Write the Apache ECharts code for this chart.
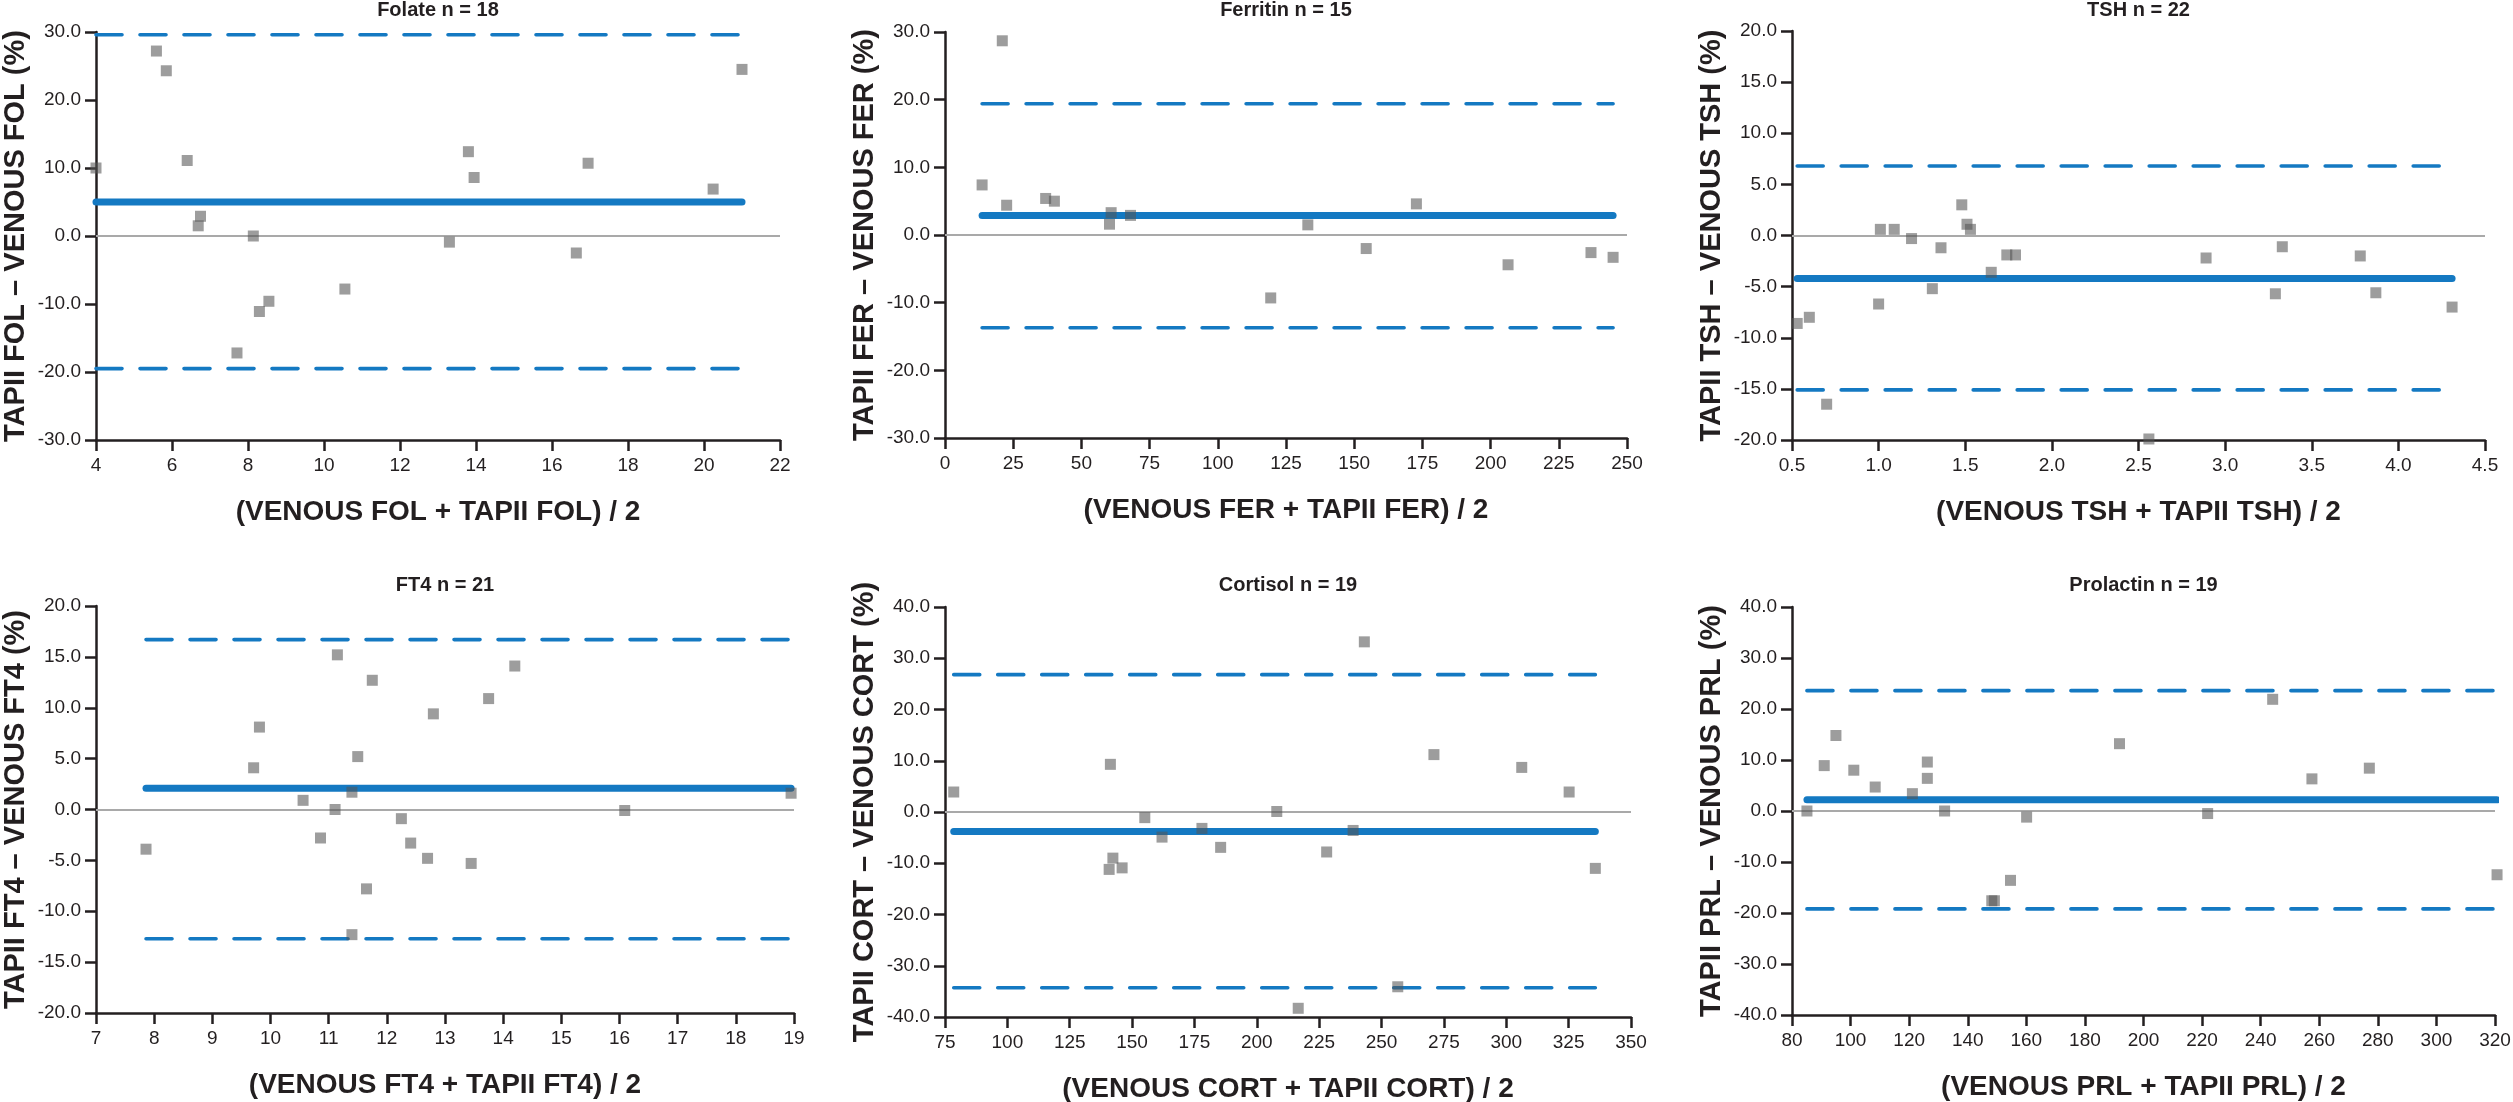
<!DOCTYPE html>
<html>
<head>
<meta charset="utf-8">
<title>TAPII vs venous - Bland-Altman</title>
<script src="https://cdn.jsdelivr.net/npm/echarts/dist/echarts.min.js"></script>
<style>
    html, body { margin: 0; padding: 0; background: #fff; }
    #chart { width: 2513px; height: 1102px; }
</style>
</head>
<body>
<div id="chart"></div>
<script>
'use strict';
// 各面板的数据
var panelTitles = ['Folate n = 18', 'Ferritin n = 15', 'TSH n = 22', 'FT4 n = 21', 'Cortisol n = 19', 'Prolactin n = 19'];
var analytes = ['FOL', 'FER', 'TSH', 'FT4', 'CORT', 'PRL'];

// 均值 (x) 和 差值% (y)
var folX = [4.0, 5.59, 5.85, 6.40, 6.75, 6.69, 8.14, 7.71, 8.30, 8.55, 10.55, 13.30, 13.80, 13.95, 16.64, 16.95, 20.24, 21.0];
var folY = [10.0, 27.2, 24.3, 11.1, 2.9, 1.5, 0.0, -17.2, -11.1, -9.6, -7.8, -0.9, 12.4, 8.6, -2.5, 10.7, 6.9, 24.5];
var ferX = [13.6, 21.0, 22.6, 36.9, 40.1, 60.9, 60.3, 68.0, 119.4, 133.0, 154.4, 172.8, 206.4, 236.8, 244.9];
var ferY = [7.4, 28.7, 4.4, 5.4, 5.0, 3.3, 1.6, 2.9, -9.3, 1.5, -2.0, 4.6, -4.4, -2.6, -3.3];
var tshX = [0.53, 0.60, 0.70, 1.00, 1.01, 1.09, 1.19, 1.31, 1.36, 1.48, 1.51, 1.53, 1.65, 1.74, 1.79, 2.56, 2.89, 3.29, 3.33, 3.78, 3.87, 4.31];
var tshY = [-8.6, -8.0, -16.5, -6.7, 0.6, 0.6, -0.3, -5.2, -1.2, 3.0, 1.1, 0.6, -3.6, -1.9, -1.9, -19.9, -2.2, -5.7, -1.1, -2.0, -5.6, -7.0];
var ft4X = [7.86, 9.71, 9.81, 10.56, 10.86, 11.11, 11.15, 11.40, 11.40, 11.50, 11.65, 11.75, 12.25, 12.41, 12.70, 12.80, 13.45, 13.75, 14.20, 16.09, 18.95];
var ft4Y = [-3.9, 4.1, 8.1, 0.9, -2.8, 0.0, 15.2, 1.7, -12.3, 5.2, -7.8, 12.7, -0.9, -3.3, -4.8, 9.4, -5.3, 10.9, 14.1, -0.1, 1.6];
var corX = [78.5, 141.3, 140.8, 142.3, 146.0, 155.1, 162.0, 178.0, 185.5, 208.0, 216.6, 228.0, 238.6, 243.1, 256.5, 271.0, 306.2, 325.2, 335.7];
var corY = [3.9, 9.3, -11.2, -9.0, -10.9, -1.1, -4.9, -3.2, -6.9, 0.1, -38.3, -7.8, -3.6, 33.2, -34.1, 11.2, 8.7, 3.9, -11.0];
var prlX = [85.1, 91.0, 95.0, 101.1, 108.4, 121.1, 126.2, 126.2, 132.1, 148.2, 149.1, 154.6, 160.1, 191.8, 221.9, 244.1, 257.5, 277.1, 320.7];
var prlY = [0.0, 8.9, 14.8, 8.0, 4.7, 3.4, 9.6, 6.4, 0.0, -17.6, -17.6, -13.6, -1.2, 13.2, -0.5, 21.9, 6.3, 8.4, -12.5];

// 偏倚和一致性界限
var bias = [5.0, 2.9, -4.2, 2.1, -3.8, 2.2];
var upperLoA = [29.6, 19.4, 6.8, 16.7, 26.8, 23.6];
var lowerLoA = [-19.5, -13.7, -15.1, -12.7, -34.3, -19.2];

// 坐标轴刻度
var xMin = [4, 0, 0.5, 7, 75, 80];
var xMax = [22, 250, 4.5, 19, 350, 320];
var xStep = [2, 25, 0.5, 1, 25, 20];
var xDecimals = [0, 0, 1, 0, 0, 0];
var yMin = [-30, -30, -20, -20, -40, -40];
var yMax = [30, 30, 20, 20, 40, 40];
var yStep = [10, 10, 5, 5, 10, 10];

var xData = [folX, ferX, tshX, ft4X, corX, prlX];
var yData = [folY, ferY, tshY, ft4Y, corY, prlY];

// 布局 (像素)
var gridBoxes = [
    { left: 96, top: 32, width: 684, height: 408 },
    { left: 945, top: 32, width: 682, height: 406 },
    { left: 1792, top: 31, width: 693, height: 409 },
    { left: 96, top: 606, width: 698, height: 407 },
    { left: 945, top: 607, width: 686, height: 410 },
    { left: 1792, top: 607, width: 703, height: 408 }
];

var FONT = "'Liberation Sans', Arial, Helvetica, sans-serif";
var INK = '#231f20';
var BLUE = '#1479c2';

var grids = [], xAxes = [], yAxes = [], series = [], graphics = [];

for (var i = 0; i < 6; i++) {
    var box = gridBoxes[i];
    grids.push({
        left: box.left, top: box.top, width: box.width, height: box.height,
        containLabel: false, outerBoundsMode: 'none'
    });

    var lo = Math.min.apply(null, xData[i]);
    var hi = Math.max.apply(null, xData[i]);

    xAxes.push({
        gridIndex: i, type: 'value',
        min: xMin[i], max: xMax[i], interval: xStep[i],
        axisLine: { show: true, onZero: false, lineStyle: { color: INK, width: 2.5 } },
        axisTick: { show: true, length: 11, lineStyle: { color: INK, width: 2.5 } },
        axisLabel: {
            margin: 16, fontSize: 19, color: INK, fontFamily: FONT,
            formatter: (function (d) {
                return function (v) { return v.toFixed(d); };
            })(xDecimals[i])
        },
        splitLine: { show: false },
        name: '(VENOUS ' + analytes[i] + ' + TAPII ' + analytes[i] + ') / 2',
        nameLocation: 'middle',
        nameGap: i < 3 ? 58 : 58,
        nameTextStyle: { fontSize: 28, fontWeight: 'bold', color: INK, fontFamily: FONT }
    });

    yAxes.push({
        gridIndex: i, type: 'value',
        min: yMin[i], max: yMax[i], interval: yStep[i],
        axisLine: { show: true, onZero: false, lineStyle: { color: INK, width: 2.5 } },
        axisTick: { show: true, length: 11, lineStyle: { color: INK, width: 2.5 } },
        axisLabel: {
            margin: 15, fontSize: 19, color: INK, fontFamily: FONT,
            formatter: function (v) { return v.toFixed(1); }
        },
        splitLine: { show: false },
        name: 'TAPII ' + analytes[i] + ' \u2013 VENOUS ' + analytes[i] + ' (%)',
        nameLocation: 'middle',
        nameGap: 66,
        nameTextStyle: { fontSize: 29, fontWeight: 'bold', color: INK, fontFamily: FONT }
    });

    // 零线
    series.push({
        type: 'line', xAxisIndex: i, yAxisIndex: i, data: [],
        silent: true, z: 1,
        markLine: {
            silent: true, symbol: 'none', label: { show: false },
            lineStyle: { color: '#a9a9a9', width: 2, type: 'solid' },
            data: [{ yAxis: 0 }]
        }
    });
    // 上下界限 (虚线)
    [upperLoA[i], lowerLoA[i]].forEach(function (v) {
        series.push({
            type: 'line', xAxisIndex: i, yAxisIndex: i,
            data: [[lo, v], [hi, v]],
            symbol: 'none', silent: true, clip: false, z: 2,
            lineStyle: { color: BLUE, width: 3.6, type: [26, 18], cap: 'round' }
        });
    });
    // 偏倚 (粗实线)
    series.push({
        type: 'line', xAxisIndex: i, yAxisIndex: i,
        data: [[lo, bias[i]], [hi, bias[i]]],
        symbol: 'none', silent: true, clip: false, z: 3,
        lineStyle: { color: BLUE, width: 7, cap: 'round' }
    });
    // 散点
    series.push({
        type: 'scatter', xAxisIndex: i, yAxisIndex: i,
        data: xData[i].map(function (x, k) { return [x, yData[i][k]]; }),
        symbol: 'rect', symbolSize: 11, clip: false, z: 5,
        itemStyle: { color: 'rgba(85,85,85,0.72)' }
    });

    // 面板标题
    graphics.push({
        type: 'text',
        x: box.left + box.width / 2,
        y: i < 3 ? 10 : 585,
        style: {
            text: panelTitles[i], align: 'center', verticalAlign: 'middle',
            fontSize: 20, fontWeight: 'bold', fontFamily: FONT, fill: INK
        }
    });
}

var chart = echarts.init(document.getElementById('chart'));
chart.setOption({
    animation: false,
    backgroundColor: '#fff',
    grid: grids,
    xAxis: xAxes,
    yAxis: yAxes,
    series: series,
    graphic: graphics
});
</script>
</body>
</html>
